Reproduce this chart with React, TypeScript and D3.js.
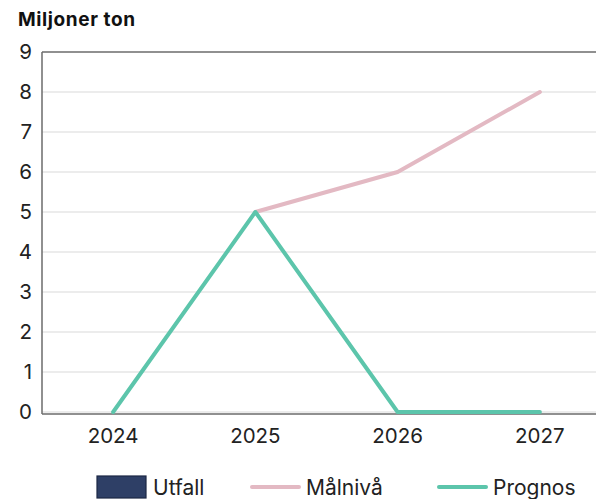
import { line, scaleBand, scaleLinear } from "d3";

const years = ["2024", "2025", "2026", "2027"];
const malniva: (number | null)[] = [null, 5, 6, 8];
const prognos: (number | null)[] = [0, 5, 0, 0];
const yTicks = [0, 1, 2, 3, 4, 5, 6, 7, 8, 9];
const legendItems = [
  { name: "Utfall", kind: "rect", color: "#2e3f66" },
  { name: "Målnivå", kind: "line", color: "#e3b9c3" },
  { name: "Prognos", kind: "line", color: "#5cc5ab" },
];

const width = 596;
const height = 499;
const font = "Inter, 'Noto Sans', sans-serif";

const App = () => {
  const x = scaleBand<string>().domain(years).range([42, 611]);
  const y = scaleLinear().domain([0, 9]).range([412, 52]);
  const cx = (d: string) => (x(d) ?? 0) + x.bandwidth() / 2;

  const path = (vals: (number | null)[]) =>
    line<number | null>()
      .defined((d) => d !== null)
      .x((_, i) => cx(years[i]))
      .y((d) => y(d as number))(vals) ?? "";

  const legendX = [97, 250, 437];

  return (
    <svg
      width={width}
      height={height}
      style={{ position: "absolute", left: 0, top: 0, background: "#fff" }}
      fontFamily={font}
    >
      <text x={18} y={26} fontSize={19} fontWeight={700} letterSpacing={0.6} fill="#111">
        Miljoner ton
      </text>

      {/* grid */}
      {yTicks.map((t) => (
        <g key={t}>
          <line
            x1={42}
            x2={width}
            y1={y(t)}
            y2={y(t)}
            stroke={t === 9 ? "#6b6b6b" : "#d9d9d9"}
            strokeWidth={t === 9 ? 1.5 : 1.2}
          />
          <text
            x={32}
            y={y(t)}
            dy="0.36em"
            textAnchor="end"
            fontSize={20.5}
            fill="#222"
          >
            {t}
          </text>
        </g>
      ))}
      <line x1={42} x2={width} y1={y(0) + 2} y2={y(0) + 2} stroke="#6b6b6b" strokeWidth={1.5} />
      <line x1={42} x2={42} y1={y(9)} y2={y(0) + 2} stroke="#6b6b6b" strokeWidth={1.5} />

      {years.map((yr) => (
        <text key={yr} x={cx(yr)} y={443} textAnchor="middle" fontSize={20.5} fill="#222">
          {yr}
        </text>
      ))}

      <path d={path(malniva)} fill="none" stroke="#e3b9c3" strokeWidth={4} strokeLinecap="round" strokeLinejoin="round" />
      <path d={path(prognos)} fill="none" stroke="#5cc5ab" strokeWidth={4} strokeLinecap="round" strokeLinejoin="round" />

      {legendItems.map((it, i) => (
        <g key={it.name} transform={`translate(${legendX[i]},487)`}>
          {it.kind === "rect" ? (
            <rect x={0} y={-11} width={49} height={22} fill={it.color} stroke="#1c2744" strokeWidth={1.2} />
          ) : (
            <line x1={2} x2={49} y1={0} y2={0} stroke={it.color} strokeWidth={4} strokeLinecap="round" />
          )}
          <text x={56} y={0} dy="0.36em" fontSize={21} fill="#222">
            {it.name}
          </text>
        </g>
      ))}
    </svg>
  );
};

export default App;
